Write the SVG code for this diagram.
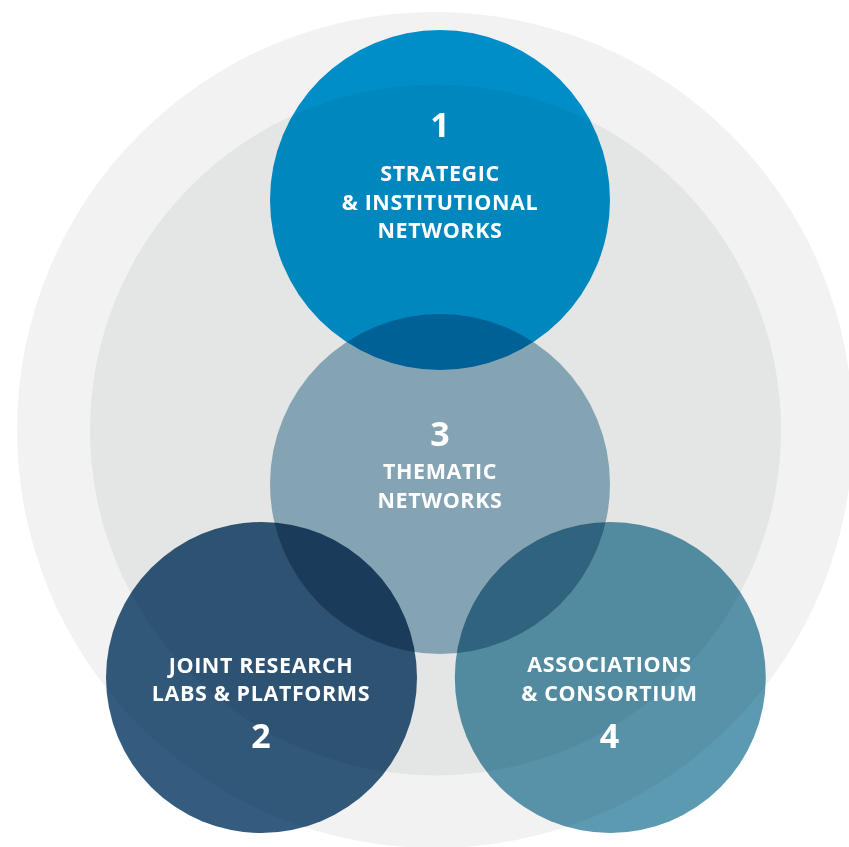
<svg xmlns="http://www.w3.org/2000/svg" width="849" height="847" viewBox="0 0 849 847">
<style>
.c{mix-blend-mode:multiply}
.t{font-family:"Open Sans","Noto Sans","Liberation Sans",sans-serif;font-weight:700;fill:#ffffff;text-anchor:middle}
.lbl{font-size:21.5px;letter-spacing:0.6px}
.num{font-size:34px}
</style>
<rect x="0" y="0" width="849" height="847" fill="#ffffff"/>
<g id="background">
<circle cx="435" cy="430" r="418" fill="#f2f2f2"/>
<circle cx="435.5" cy="430" r="345.5" fill="#e4e5e5"/>
</g>
<g id="node1">
<circle class="c" cx="440" cy="200" r="170" fill="#0096d4"/>
<text class="t num" x="440" y="137">1</text>
<text class="t lbl" x="440" y="181">STRATEGIC</text>
<text class="t lbl" x="440" y="210">&amp; INSTITUTIONAL</text>
<text class="t lbl" x="440" y="238">NETWORKS</text>
</g>
<g id="node3">
<circle class="c" cx="440" cy="484" r="170" fill="#94b7c9"/>
<text class="t num" x="440" y="445.5">3</text>
<text class="t lbl" x="440" y="479.3">THEMATIC</text>
<text class="t lbl" x="440" y="508.3">NETWORKS</text>
</g>
<g id="node2">
<circle class="c" cx="261.5" cy="677.5" r="155.5" fill="#335c7f"/>
<text class="t lbl" x="261" y="673.3">JOINT RESEARCH</text>
<text class="t lbl" x="261" y="701">LABS &amp; PLATFORMS</text>
<text class="t num" x="261" y="747.7">2</text>
</g>
<g id="node4">
<circle class="c" cx="610.3" cy="677.5" r="155.5" fill="#5c9ab1"/>
<text class="t lbl" x="609.5" y="671.7">ASSOCIATIONS</text>
<text class="t lbl" x="609.5" y="700.7">&amp; CONSORTIUM</text>
<text class="t num" x="609.5" y="747.7">4</text>
</g>
<g id="connectors"/>
</svg>
